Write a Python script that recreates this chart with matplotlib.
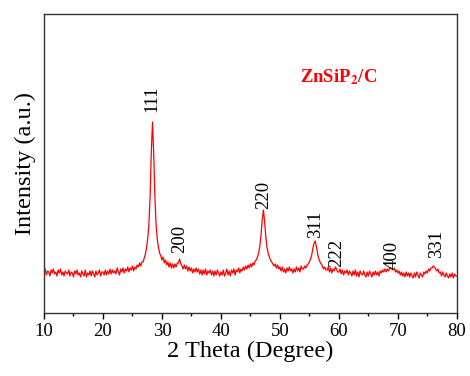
import numpy as np
import matplotlib
matplotlib.use("Agg")
from matplotlib import pyplot as plt

# 2 theta grid, 0.2 degree step, 10..80
two_theta = np.round(np.arange(10, 80.001, 0.2), 1)

# intensity (arb. units), one row = 2 degrees
intensity = [
    40, 44, 38, 42, 41, 37, 43, 40, 44, 39,      # 10
    41, 37, 43, 40, 44, 38, 41, 37, 42, 40,      # 12
    39, 43, 37, 41, 40, 36, 42, 39, 43, 38,      # 14
    40, 36, 42, 39, 37, 43, 36, 40, 38, 42,      # 16
    37, 42, 39, 36, 42, 38, 40, 43, 37, 41,      # 18
    41, 38, 43, 38, 42, 39, 44, 39, 43, 40,      # 20
    42, 39, 45, 41, 38, 44, 41, 45, 40, 44,      # 22
    42, 46, 41, 45, 43, 47, 42, 46, 44, 48,      # 24
    46, 50, 47, 51, 51, 55, 59, 66, 75, 90,      # 26
    118, 162, 191, 160, 117, 89, 74, 66, 60, 57, # 28
    53, 56, 50, 53, 48, 51, 46, 50, 45, 49,      # 30
    45, 49, 46, 50, 50, 54, 49, 47, 44, 48,      # 32
    44, 47, 42, 46, 42, 45, 40, 44, 41, 45,      # 34
    41, 44, 39, 43, 38, 43, 39, 44, 38, 42,      # 36
    40, 43, 38, 42, 37, 42, 38, 43, 40, 37,      # 38
    41, 38, 43, 37, 40, 44, 38, 42, 37, 43,      # 40
    40, 44, 38, 43, 41, 45, 40, 44, 42, 46,      # 42
    43, 47, 44, 48, 45, 49, 46, 50, 48, 52,      # 44
    53, 56, 60, 67, 78, 93, 103, 92, 77, 66,     # 46
    60, 56, 53, 51, 49, 47, 49, 45, 48, 44,      # 48
    46, 42, 46, 41, 44, 40, 45, 42, 46, 42,      # 50
    44, 40, 44, 41, 46, 42, 45, 41, 47, 44,      # 52
    44, 47, 45, 48, 49, 51, 54, 58, 65, 70,      # 54
    72, 66, 59, 54, 51, 49, 47, 44, 46, 43,      # 56
    43, 46, 41, 45, 40, 44, 42, 46, 44, 41,      # 58
    41, 44, 39, 43, 38, 42, 40, 43, 38, 42,      # 60
    40, 37, 42, 38, 43, 37, 41, 36, 42, 39,      # 62
    38, 42, 38, 36, 41, 37, 42, 39, 36, 41,      # 64
    38, 42, 38, 41, 37, 42, 40, 43, 41, 44,      # 66
    41, 44, 42, 45, 45, 44, 43, 45, 41, 43,      # 68
    40, 42, 38, 41, 37, 40, 36, 41, 37, 40,      # 70
    36, 40, 37, 35, 40, 36, 41, 38, 35, 40,      # 72
    38, 36, 41, 39, 42, 40, 44, 42, 45, 45,      # 74
    47, 46, 44, 42, 44, 40, 41, 37, 41, 38,      # 76
    36, 40, 37, 35, 39, 36, 40, 35, 39, 37,      # 78
    37,                                          # 80
]

# peak labels (hkl) and where they sit
hkl = ["111", "200", "220", "311", "222", "400", "331"]
hkl_x = [28.3, 33.05, 47.3, 56.1, 59.66, 68.98, 76.6]
hkl_y = [201, 60, 104, 75, 46, 44, 55]

plt.rcParams['font.family'] = ['Liberation Serif', 'DejaVu Serif']
plt.rcParams['mathtext.fontset'] = 'stix'

fig = plt.figure(figsize=(4.7, 3.76), dpi=100)
ax = fig.add_axes([0.0936, 0.1676, 0.8784, 0.7952])

ax.plot(two_theta, intensity, color='red', lw=0.9)

for lab, x, y in zip(hkl, hkl_x, hkl_y):
    ax.text(x, y, lab, rotation=90, ha='center', va='bottom', fontsize=13.5)

ax.text(0.62, 0.79, r'ZnSiP$_{\mathbf{2}}$/C', transform=ax.transAxes,
        color='red', fontsize=13.5, fontweight='bold', va='center')

ax.set_xlim(10, 80)
ax.set_ylim(0, 299)
ax.set_xticks(range(10, 81, 10))
ax.set_xticks(range(15, 80, 10), minor=True)
ax.set_yticks([])
ax.tick_params(axis='x', direction='out', length=4, width=1, labelsize=13.5, pad=3)
ax.tick_params(axis='x', which='minor', direction='out', length=2.5, width=1)
for s in ax.spines.values():
    s.set_color('#333333')
    s.set_linewidth(1)

ax.set_xlabel('2 Theta (Degree)', fontsize=17.5, labelpad=1)
ax.set_ylabel('Intensity (a.u.)', fontsize=17.5, labelpad=6)

fig.savefig('out.png', dpi=100)
